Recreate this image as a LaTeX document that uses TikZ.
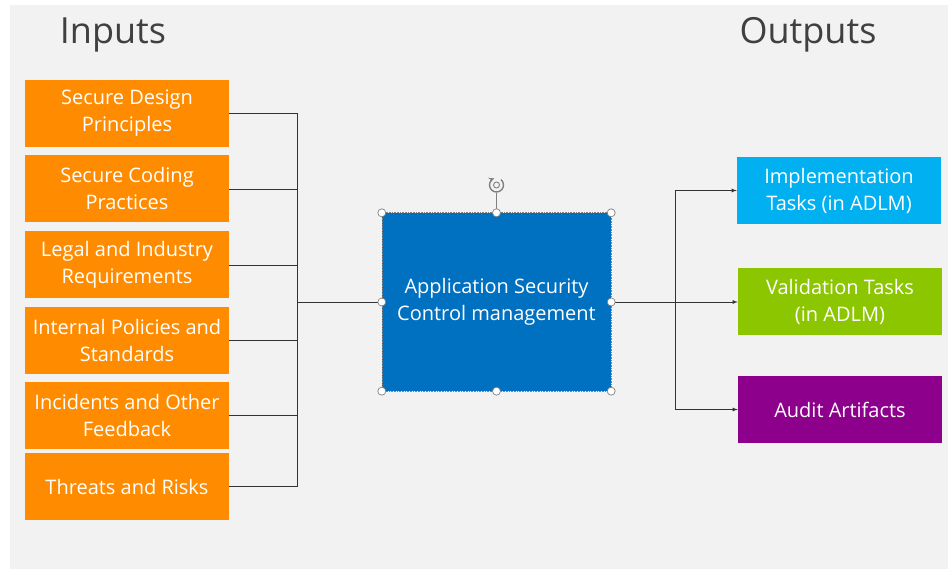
\documentclass[tikz,border=0pt]{standalone}
\usepackage{fontspec}
\setmainfont{Open Sans}
\usetikzlibrary{positioning,arrows}
\definecolor{bggray}{HTML}{F2F2F2}
\definecolor{inorange}{HTML}{FF8C00}
\definecolor{ctrlblue}{HTML}{0070C0}
\definecolor{implcyan}{HTML}{00B0F0}
\definecolor{validgreen}{HTML}{8CC600}
\definecolor{auditpurple}{HTML}{8C008C}
\definecolor{titlegray}{HTML}{404040}
\begin{document}
\begin{tikzpicture}[x=1pt,y=-1pt,
        inbox/.style={fill=inorange,text=white,minimum width=204pt,minimum height=67pt,inner sep=0pt,align=center,font=\fontsize{20}{27}\selectfont},
        outbox/.style={inbox,fill=#1},
        title/.style={text=titlegray,font=\fontsize{36}{40}\selectfont},
        wire/.style={draw=black!80,line width=0.8pt},
        handle/.style={draw=gray,fill=white,line width=0.7pt}]
    \useasboundingbox (0,0) rectangle (948,569);
    \fill[bggray] (10,5) rectangle (948,569);
    % titles
    \node[anchor=center,title] at (113,35) (inputs) {Inputs};
    \node[anchor=center,title] at (808,35) (outputs) {Outputs};
    % inputs
    \node[anchor=center,inbox] at (127,113.5) (design) {Secure Design\\Principles};
    \node[anchor=center,inbox] at (127,189) (coding) {Secure Coding\\Practices};
    \node[anchor=center,inbox] at (127,265) (legal) {Legal and Industry\\Requirements};
    \node[anchor=center,inbox] at (127,340.5) (policies) {Internal Policies and\\Standards};
    \node[anchor=center,inbox] at (127,415.5) (incidents) {Incidents and Other\\Feedback};
    \node[anchor=center,inbox] at (127,486.5) (threats) {Threats and Risks};
    % control management
    \node[anchor=center,inbox,fill=ctrlblue,minimum width=229pt,minimum height=178pt] at (496.5,302) (control) {Application Security\\Control management};
    % outputs
    \node[anchor=center,outbox=implcyan] at (839,190.5) (impl) {Implementation\\Tasks (in ADLM)};
    \node[anchor=center,outbox=validgreen] at (840,302) (valid) {Validation Tasks\\(in ADLM)};
    \node[anchor=center,outbox=auditpurple] at (840,409.5) (audit) {Audit Artifacts};
    % input bus
    \coordinate (inbus) at (297,302);
    \draw[wire] (design.east) -- (design.east -| inbus);
    \draw[wire] (coding.east) -- (coding.east -| inbus);
    \draw[wire] (legal.east) -- (legal.east -| inbus);
    \draw[wire] (policies.east) -- (policies.east -| inbus);
    \draw[wire] (incidents.east) -- (incidents.east -| inbus);
    \draw[wire] (threats.east) -- (threats.east -| inbus);
    \draw[wire] (design.east -| inbus) -- (threats.east -| inbus);
    \draw[wire] (inbus) -- (control);
    % output bus
    \coordinate (outbus) at (675,302);
    \draw[wire] (control) -- (outbus);
    \draw[wire] (impl.west -| outbus) -- (audit.west -| outbus);
    \draw[wire,-latex] (impl.west -| outbus) -- (impl);
    \draw[wire,-latex] (outbus) -- (valid);
    \draw[wire,-latex] (audit.west -| outbus) -- (audit);
    % selection handles
    \draw[gray,densely dotted,line width=0.6pt] (control.north west) rectangle (control.south east);
    \coordinate (rotate) at (496.5,185);
    \draw[gray,line width=0.7pt] (control.north) -- ([yshift=-8pt]rotate);
    \draw[gray,line width=1.4pt,-stealth] ([shift={(50:7pt)}]rotate) arc[start angle=50,end angle=-250,radius=7pt];
    \draw[gray,line width=0.9pt] (rotate) circle (3pt);
    \draw[handle] (control.north west) circle (4pt) (control.north) circle (4pt)
        (control.north east) circle (4pt) (control.east) circle (4pt)
        (control.south east) circle (4pt) (control.south) circle (4pt)
        (control.south west) circle (4pt) (control.west) circle (4pt);
\end{tikzpicture}
\end{document}
